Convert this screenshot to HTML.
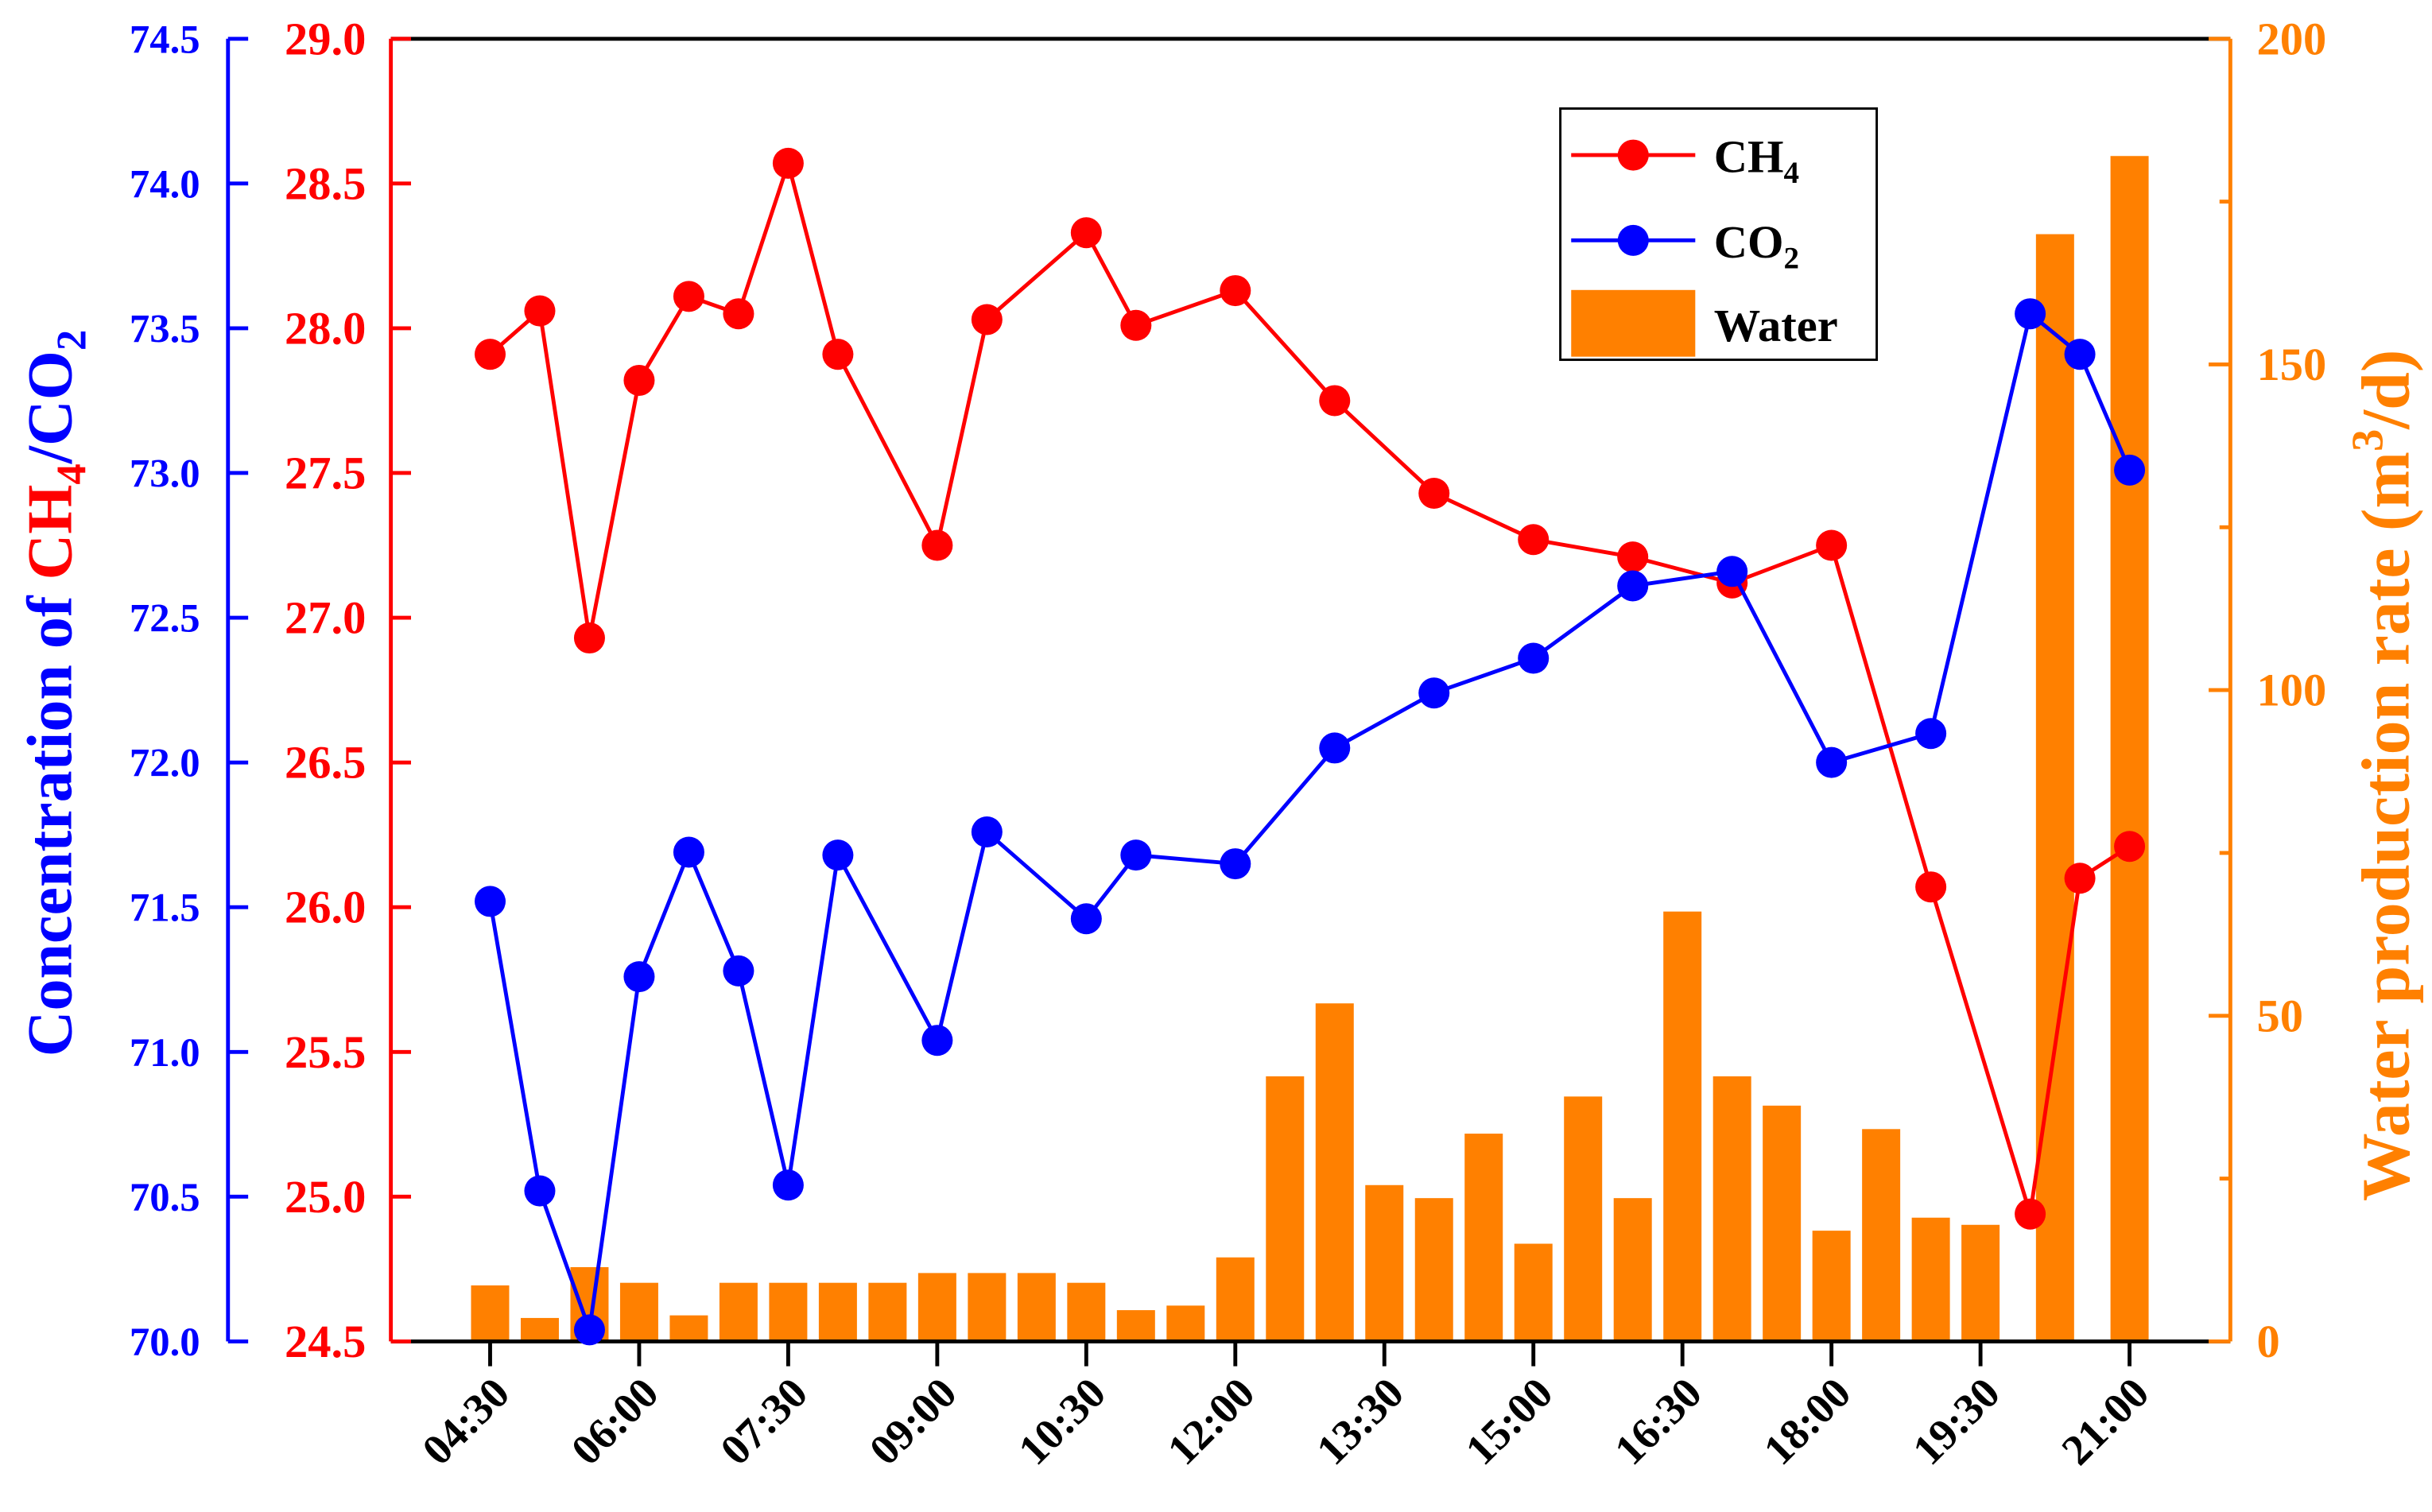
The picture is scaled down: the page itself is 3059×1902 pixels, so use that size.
<!DOCTYPE html>
<html><head><meta charset="utf-8"><style>
html,body{margin:0;padding:0;background:#fff;}
svg{display:block;font-family:"Liberation Serif",serif;font-weight:bold;}
</style></head><body>
<svg id="chart" width="3059" height="1902" viewBox="0 0 1568 975" preserveAspectRatio="none" xmlns="http://www.w3.org/2000/svg">
<g id="bars"></g>
<g id="axes"></g>
<g id="series"></g>
<text transform="translate(46,447) rotate(-90)" text-anchor="middle" font-size="41" fill="#0000ff">Concentration of <tspan fill="#ff0000">CH<tspan font-size="27" dy="9">4</tspan></tspan><tspan dy="-9">/CO</tspan><tspan font-size="27" dy="9">2</tspan></text>
<text transform="translate(1553,500) rotate(-90)" text-anchor="middle" font-size="44" fill="#ff8000">Water production rate (m<tspan font-size="29" dy="-17">3</tspan><tspan dy="17">/d)</tspan></text>
<g>
<rect x="1006" y="70" width="204" height="162" fill="#fff" stroke="#000" stroke-width="1.5"/>
<g><line x1="1013" y1="100" x2="1093" y2="100" stroke="#ff0000" stroke-width="2.5"/><circle cx="1053" cy="100" r="10" fill="#ff0000"/><text x="1105" y="111" font-size="30">CH<tspan font-size="20" dy="7">4</tspan></text></g>
<g><line x1="1013" y1="155" x2="1093" y2="155" stroke="#0000ff" stroke-width="2.5"/><circle cx="1053" cy="155" r="10" fill="#0000ff"/><text x="1105" y="166" font-size="30">CO<tspan font-size="20" dy="7">2</tspan></text></g>
<g><rect x="1013" y="187" width="80" height="43" fill="#ff8000"/><text x="1105" y="220" font-size="30">Water</text></g>
</g>
</svg>
<script>
const pointTimes = ["04:30","05:00","05:30","06:00","06:30","07:00","07:30","08:00","09:00","09:30","10:30","11:00","12:00","13:00","14:00","15:00","16:00","17:00","18:00","19:00","20:00","20:30","21:00"];
const ch4Values = [27.91,28.06,26.93,27.82,28.11,28.05,28.57,27.91,27.25,28.03,28.33,28.01,28.13,27.75,27.43,27.27,27.21,27.12,27.25,26.07,24.94,26.10,26.21];
const co2Values = [71.52,70.52,70.04,71.26,71.69,71.28,70.54,71.68,71.04,71.76,71.46,71.68,71.65,72.05,72.24,72.36,72.61,72.66,72.00,72.10,73.55,73.41,73.01];
const barTimes = ["04:30","05:00","05:30","06:00","06:30","07:00","07:30","08:00","08:30","09:00","09:30","10:00","10:30","11:00","11:30","12:00","12:30","13:00","13:30","14:00","14:30","15:00","15:30","16:00","16:30","17:00","17:30","18:00","18:30","19:00","19:30","20:15","21:00"];
const waterValues = [8.6,3.6,11.4,9,4,9,9,9,9,10.5,10.5,10.5,9,4.8,5.5,12.9,40.7,51.9,24,22,31.9,15,37.6,22,66,40.7,36.2,17,32.6,19,17.9,170,182];
const xTickLabels = ["04:30","06:00","07:30","09:00","10:30","12:00","13:30","15:00","16:30","18:00","19:30","21:00"];
const ch4Ticks = ["24.5","25.0","25.5","26.0","26.5","27.0","27.5","28.0","28.5","29.0"];
const co2Ticks = ["70.0","70.5","71.0","71.5","72.0","72.5","73.0","73.5","74.0","74.5"];
const waterTicks = ["0","50","100","150","200"];

const NS="http://www.w3.org/2000/svg";
const TOP=25,BOT=865;
function mins(t){const p=t.split(":");return +p[0]*60+ +p[1];}
function xS(t){return 316+(mins(t)-270)*(1057/990);}
function yCH4(v){return BOT-(v-24.5)/4.5*(BOT-TOP);}
function yCO2(v){return BOT-(v-70)/4.5*(BOT-TOP);}
function yW(v){return BOT-v/200*(BOT-TOP);}
function mk(tag,attrs,parent){const e=document.createElementNS(NS,tag);for(const k in attrs)e.setAttribute(k,attrs[k]);parent.appendChild(e);return e;}
const bars=document.getElementById('bars'),axes=document.getElementById('axes'),series=document.getElementById('series');

barTimes.forEach((t,i)=>{
  const y=yW(waterValues[i]);
  const r=mk('rect',{x:xS(t)-12.3,y:y,width:24.6,height:BOT-y,fill:'#ff8000'},bars);
  
  
});

mk('line',{x1:252,y1:TOP,x2:1438,y2:TOP,stroke:'#000','stroke-width':2.5},axes);
mk('line',{x1:252,y1:BOT,x2:1438,y2:BOT,stroke:'#000','stroke-width':2.5},axes);
mk('line',{x1:147,y1:TOP,x2:147,y2:BOT,stroke:'#0000ff','stroke-width':2.5},axes);
mk('line',{x1:252,y1:TOP,x2:252,y2:BOT,stroke:'#ff0000','stroke-width':2.5},axes);
mk('line',{x1:1438,y1:TOP,x2:1438,y2:BOT,stroke:'#ff8000','stroke-width':2.5},axes);

co2Ticks.forEach(s=>{
  const y=yCO2(+s);
  mk('line',{x1:147,y1:y,x2:160,y2:y,stroke:'#0000ff','stroke-width':2.5},axes);
  const t=mk('text',{x:129,y:y+9,'text-anchor':'end','font-size':26,fill:'#0000ff'},axes);t.textContent=s;
  
  
});
ch4Ticks.forEach(s=>{
  const y=yCH4(+s);
  mk('line',{x1:252,y1:y,x2:265,y2:y,stroke:'#ff0000','stroke-width':2.5},axes);
  const t=mk('text',{x:236,y:y+10,'text-anchor':'end','font-size':30,fill:'#ff0000'},axes);t.textContent=s;
  
  
});
waterTicks.forEach(s=>{
  const y=yW(+s);
  mk('line',{x1:1424,y1:y,x2:1438,y2:y,stroke:'#ff8000','stroke-width':2.5},axes);
  if(+s<200){const ym=yW(+s+25);mk('line',{x1:1431,y1:ym,x2:1438,y2:ym,stroke:'#ff8000','stroke-width':2.5},axes);}
  const t=mk('text',{x:1455,y:y+10,'font-size':30,fill:'#ff8000'},axes);t.textContent=s;
  
  
});
xTickLabels.forEach(s=>{
  const x=xS(s);
  mk('line',{x1:x,y1:BOT,x2:x,y2:BOT+16,stroke:'#000','stroke-width':2.5},axes);
  const t=mk('text',{x:x+14,y:900,'text-anchor':'end','font-size':28,fill:'#000',transform:'rotate(-45 '+(x+14)+' 900)'},axes);t.textContent=s;
  
  
});

function drawSeries(vals,yf,color,name){
  const pts=pointTimes.map((t,i)=>xS(t)+','+yf(vals[i])).join(' ');
  const pl=mk('polyline',{points:pts,fill:'none',stroke:color,'stroke-width':2.5},series);
  
  
  pointTimes.forEach((t,i)=>{
    const c=mk('circle',{cx:xS(t),cy:yf(vals[i]),r:10,fill:color},series);
    
    
  });
}
drawSeries(ch4Values,yCH4,'#ff0000','ch4');
drawSeries(co2Values,yCO2,'#0000ff','co2');
</script>
</body></html>
